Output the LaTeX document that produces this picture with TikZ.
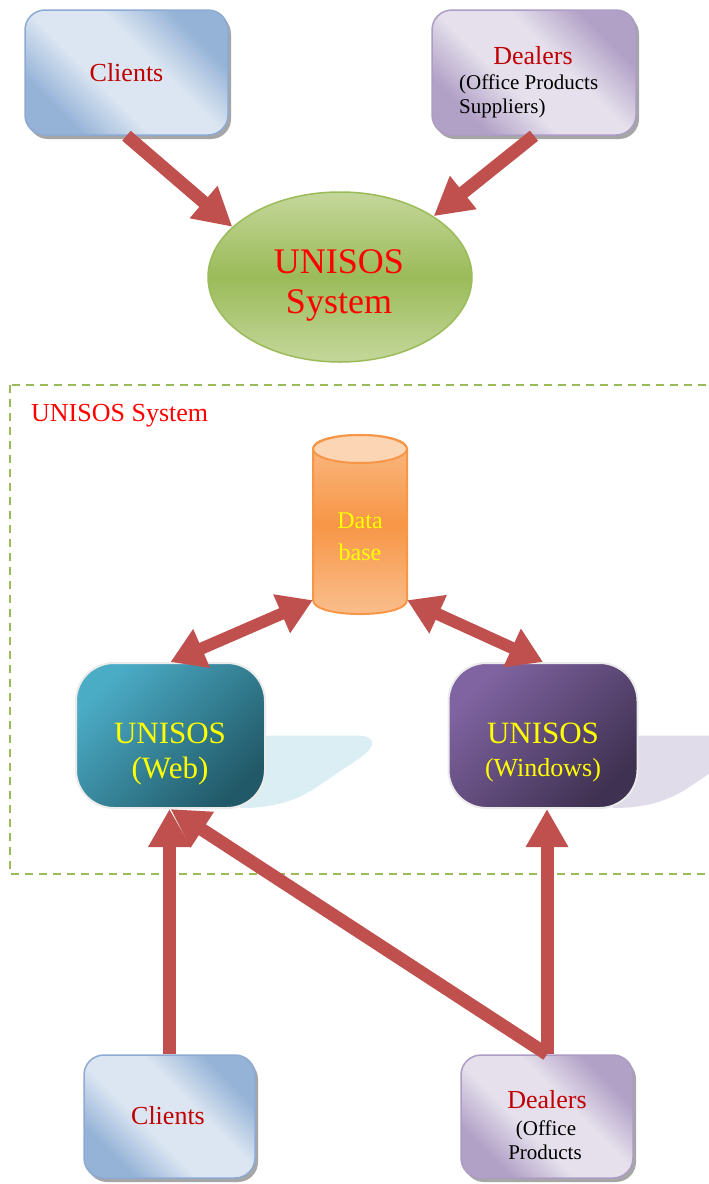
\documentclass[tikz,border=0pt]{standalone}
\usepackage{fontspec}
\setmainfont{Liberation Serif}
\usetikzlibrary{arrows.meta,shadows,shapes.geometric}

\definecolor{arrowred}{HTML}{C0504D}
\definecolor{blueLight}{HTML}{DCE6F2}
\definecolor{blueDark}{HTML}{95B3D7}
\definecolor{blueEdge}{HTML}{8EAAD2}
\definecolor{purpleLight}{HTML}{E5E0EC}
\definecolor{purpleDark}{HTML}{B2A1C7}
\definecolor{purpleEdge}{HTML}{AD9CC4}
\definecolor{greenMain}{HTML}{9BBB59}
\definecolor{greenLight}{HTML}{C4D79B}
\definecolor{orangeMain}{HTML}{F79646}
\definecolor{orangeLight}{HTML}{FAC090}
\definecolor{orangeTop}{HTML}{FCD5B5}
\definecolor{tealLight}{HTML}{4BACC6}
\definecolor{tealDark}{HTML}{215968}
\definecolor{violetLight}{HTML}{8064A2}
\definecolor{violetDark}{HTML}{3F3151}
\definecolor{webGlow}{HTML}{DAEEF3}
\definecolor{winGlow}{HTML}{E1DCEA}
\definecolor{dkred}{HTML}{C00000}
\definecolor{brightred}{HTML}{FF0000}
\definecolor{textyellow}{HTML}{FFFF00}

% soft diagonal bands: darker tint in two corners, broad light band between
\pgfdeclareverticalshading{blueband}{100bp}{color(0bp)=(blueDark); color(27bp)=(blueDark);
  color(42bp)=(blueLight); color(58bp)=(blueLight); color(73bp)=(blueDark); color(100bp)=(blueDark)}
\pgfdeclareverticalshading{purpleband}{100bp}{color(0bp)=(purpleDark); color(27bp)=(purpleDark);
  color(42bp)=(purpleLight); color(58bp)=(purpleLight); color(73bp)=(purpleDark); color(100bp)=(purpleDark)}

\newcommand\setfs[1]{\fontsize{#1}{#1}\selectfont}

\tikzset{
  softbox/.style={rectangle, rounded corners=20pt, line width=1.5pt, inner sep=0pt,
    drop shadow={shadow xshift=3pt, shadow yshift=-4pt, fill=black, opacity=0.35}},
  clientbox/.style={softbox, draw=blueEdge, shade, shading=blueband, shading angle=-45,
    text=dkred, font=\setfs{26}},
  dealerbox/.style={softbox, draw=purpleEdge, shade, shading=purpleband, shading angle=-45},
  appbox/.style={rectangle, rounded corners=38pt, draw=white!92!black, line width=2pt,
    inner sep=0pt, minimum width=189pt, minimum height=145pt},
  arrowline/.style={draw=arrowred, line width=13pt},
  oneway/.style={arrowline, -{Triangle[width=40pt,length=38pt]}},
  twoway/.style={arrowline, line width=12pt,
    {Triangle[width=40pt,length=34pt]}-{Triangle[width=40pt,length=34pt]}},
  darklabel/.style={text=dkred, font=\setfs{26}, inner sep=0pt},
  sublabel/.style={text=black, font=\setfs{21}, inner sep=0pt},
  glow/.pic={
    \fill[pic actions] (60,0) -- (185,0) .. controls (205,0) and (208,9) .. (190,22)
      -- (150,49) .. controls (125,67) and (100,72.5) .. (70,72.5) -- cycle;
  }
}

\begin{document}
\begin{tikzpicture}[x=1pt,y=-1pt]
\useasboundingbox (0,0) rectangle (709,1184);
\clip (0,0) rectangle (709,1184);

% ---------- context view ----------
\node[clientbox, minimum width=203pt, minimum height=125pt] (cliTop) at (126.5,72.5) {Clients};
\node[dealerbox, minimum width=204pt, minimum height=125pt] (dealTop) at (534,72.5) {};
\node[darklabel, anchor=base] (dealTopA) at (533,64) {Dealers};
\node[sublabel, anchor=base west] (dealTopB) at (459,89) {(Office Products};
\node[sublabel, anchor=base west] (dealTopC) at (459,113) {Suppliers)};

\node[ellipse, draw=greenMain, line width=1.5pt, top color=greenLight, bottom color=greenLight,
      middle color=greenMain, minimum width=264pt, minimum height=170pt, inner sep=0pt]
      (sys) at (340,277) {};
\node[text=brightred, font=\setfs{36}, anchor=base, inner sep=0pt] (sysA) at (339,273) {UNISOS};
\node[text=brightred, font=\setfs{36}, anchor=base, inner sep=0pt] (sysB) at (339,313) {System};

\draw[oneway] (cliTop.south) -- (sys.155);
\draw[oneway] (dealTop.south) -- (sys.33);

% ---------- system boundary ----------
\draw[draw=greenMain, line width=2.6pt, dash pattern=on 8pt off 6pt] (10,385) rectangle (730,874);
\node[text=brightred, font=\setfs{26}, anchor=base west, inner sep=0pt] (bound) at (31,421) {UNISOS System};

% database cylinder
\node[minimum width=94pt, minimum height=151pt, inner sep=0pt] (db) at (360,524.5) {};
\shade[top color=orangeLight!90!orangeMain, bottom color=orangeLight, middle color=orangeMain,
       draw=orangeMain, line width=2pt]
  (313,449) -- (313,600) .. controls (313,618.7) and (407,618.7) .. (407,600)
  -- (407,449) .. controls (407,430.3) and (313,430.3) .. (313,449) -- cycle;
\filldraw[fill=orangeTop, draw=orangeMain, line width=2pt] (360,449) ellipse [x radius=47pt, y radius=14pt];
\node[text=textyellow, font=\setfs{24}, anchor=base, inner sep=0pt] (dbA) at (360,528) {Data};
\node[text=textyellow, font=\setfs{24}, anchor=base, inner sep=0pt] (dbB) at (360,560) {base};

% application boxes with their soft reflections
\coordinate (webc) at (170.5,735.5);
\coordinate (winc) at (543,735.5);
\pic[fill=webGlow] at (webc) {glow};
\pic[fill=winGlow] at (winc) {glow};
\node[appbox, top color=tealLight, bottom color=tealDark, shading angle=45] (web) at (webc) {};
\node[appbox, top color=violetLight, bottom color=violetDark, shading angle=45] (win) at (winc) {};
\node[text=textyellow, font=\setfs{31}, anchor=base, inner sep=0pt] (webA) at (170,743) {UNISOS};
\node[text=textyellow, font=\setfs{31}, anchor=base, inner sep=0pt] (webB) at (170,778) {(Web)};
\node[text=textyellow, font=\setfs{31}, anchor=base, inner sep=0pt] (winA) at (543,743) {UNISOS};
\node[text=textyellow, font=\setfs{26}, anchor=base, inner sep=0pt] (winB) at (543,776) {(Windows)};

\draw[twoway] (web.north) -- (db.south west);
\draw[twoway] (win.north) -- (db.south east);

% ---------- outside actors ----------
\node[clientbox, minimum width=171pt, minimum height=123pt] (cliBot) at (169.5,1116.5) {};
\node[darklabel, anchor=base] (cliBotA) at (168,1124) {Clients};
\node[dealerbox, minimum width=172pt, minimum height=123pt] (dealBot) at (547,1116.5) {};
\node[darklabel, anchor=base] (dealBotA) at (547,1108) {Dealers};
\node[sublabel, anchor=base] (dealBotB) at (546,1135) {(Office};
\node[sublabel, anchor=base] (dealBotC) at (545,1159) {Products};

\draw[oneway] (cliBot.north) -- (cliBot.north |- web.south);
\draw[oneway] (dealBot.north) -- (web.south);
\draw[oneway] (dealBot.north) -- (dealBot.north |- win.south);
\end{tikzpicture}
\end{document}
